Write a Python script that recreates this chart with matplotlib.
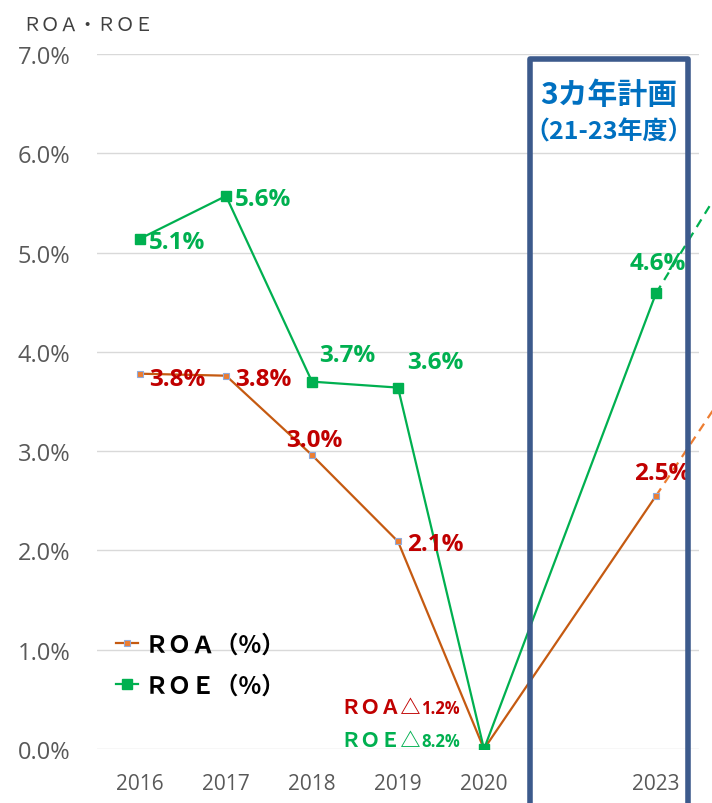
import matplotlib.pyplot as plt
from matplotlib.patches import Rectangle
from matplotlib.offsetbox import TextArea, HPacker, AnnotationBbox

plt.rcParams['font.family'] = ['Open Sans', 'Noto Sans CJK JP', 'DejaVu Sans']

categories = ['2016', '2017', '2018', '2019', '2020', '', '2023']
x_idx = [0, 1, 2, 3, 4, 6]
roa = [3.78, 3.76, 2.96, 2.09, 0.0, 2.55]
roe = [5.14, 5.57, 3.70, 3.64, 0.0, 4.59]
roa_labels = ['3.8%', '3.8%', '3.0%', '2.1%', None, '2.5%']
roe_labels = ['5.1%', '5.6%', '3.7%', '3.6%', None, '4.6%']
# plan extension beyond 2023 (dashed)
roa_next = 3.85
roe_next = 6.0
roa_2020 = '1.2%'
roe_2020 = '8.2%'

ROA_LINE = '#C55A11'
ROA_DASH = '#ED7D31'
ROA_TXT = '#C00000'
ROE_CLR = '#00B050'
PLAN_BOX = '#3C5A8C'
PLAN_TXT = '#0070C0'

fig = plt.figure(figsize=(7.12, 8.04), dpi=100)
ax = fig.add_axes([97 / 712, 54 / 804, 602 / 712, 695 / 804])

ax.plot(x_idx, roa, color=ROA_LINE, lw=1.6, marker='s', ms=5,
        mfc=ROA_DASH, mec='#8FAADC', mew=0.8, label='ＲＯＡ（%）', zorder=3)
ax.plot(x_idx, roe, color=ROE_CLR, lw=1.6, marker='s', ms=7,
        mfc=ROE_CLR, mec=ROE_CLR, label='ＲＯＥ（%）', zorder=3)
ax.plot([6, 7], [roa[-1], roa_next], color=ROA_DASH, lw=1.6, ls=(0, (4, 3)), clip_on=False, zorder=2)
ax.plot([6, 7], [roe[-1], roe_next], color=ROE_CLR, lw=1.6, ls=(0, (4, 3)), clip_on=False, zorder=2)

# (dx, dy, ha) in pixels
roa_off = [(9, -5, 'left'), (9, -3, 'left'), (2, 15, 'center'), (9, -3, 'left'), None, (6, 23, 'center')]
roe_off = [(9, -3, 'left'), (9, -3, 'left'), (7, 27, 'left'), (9, 26, 'left'), None, (2, 30, 'center')]
for xi, v, lab, off in zip(x_idx, roa, roa_labels, roa_off):
    if lab is None:
        continue
    ax.annotate(lab, (xi, v), xytext=off[:2], textcoords='offset pixels', ha=off[2], va='center',
                fontsize=17.5, fontweight='bold', color=ROA_TXT, zorder=4)
for xi, v, lab, off in zip(x_idx, roe, roe_labels, roe_off):
    if lab is None:
        continue
    ax.annotate(lab, (xi, v), xytext=off[:2], textcoords='offset pixels', ha=off[2], va='center',
                fontsize=17.5, fontweight='bold', color=ROE_CLR, zorder=4)

# 2020 actual values (negative)
for y, name, val, col in [(0.41, 'ＲＯＡ△', roa_2020, ROA_TXT), (0.08, 'ＲＯＥ△', roe_2020, ROE_CLR)]:
    box = HPacker(children=[
        TextArea(name, textprops=dict(fontsize=14.5, color=col, fontweight='bold')),
        TextArea(val, textprops=dict(fontsize=12, color=col, fontweight='bold')),
    ], align='baseline', pad=0, sep=0)
    ab = AnnotationBbox(box, (3.72, y), box_alignment=(1, 0.5), frameon=False, pad=0)
    ax.add_artist(ab)

# 3-year plan box
ax.add_patch(Rectangle((4.535, -1.0), 1.84, 7.95, fill=False, ec=PLAN_BOX, lw=4,
                       clip_on=False, zorder=5, joinstyle='round'))
ax.text(5.455, 6.6, '3カ年計画', ha='center', va='center', fontsize=21.5, fontweight='bold',
        color=PLAN_TXT, family=['Noto Sans CJK JP'])
ax.text(5.455, 6.22, '（21-23年度）', ha='center', va='center', fontsize=18, fontweight='bold',
        color=PLAN_TXT, family=['Noto Sans CJK JP'])

ax.set_xlim(-0.5, 6.5)
ax.set_ylim(0, 7)
ax.set_xticks(range(len(categories)))
ax.set_xticklabels(categories)
ax.set_yticks([i for i in range(8)])
ax.set_yticklabels([f'{i:.1f}%' for i in range(8)])
ax.tick_params(axis='x', length=0, labelsize=15, colors='#595959', pad=17)
ax.tick_params(axis='y', length=0, labelsize=17, colors='#595959', pad=19)
ax.grid(axis='y', color='#D9D9D9', lw=1)
ax.set_axisbelow(True)
for s in ax.spines.values():
    s.set_visible(False)

fig.text(22 / 712, 1 - 25 / 804, 'ＲＯＡ・ＲＯＥ', fontsize=13.5, color='#404040', va='center',
         family=['Noto Sans CJK JP'])

leg = ax.legend(loc='upper left', bbox_to_anchor=(95 / 712, 1 - 612 / 804), bbox_transform=fig.transFigure,
                frameon=False, handlelength=0.9, handletextpad=0.3, labelspacing=0.72,
                prop={'family': 'Noto Sans CJK JP', 'size': 17, 'weight': 'bold'})

fig.savefig('out.png', dpi=100)
